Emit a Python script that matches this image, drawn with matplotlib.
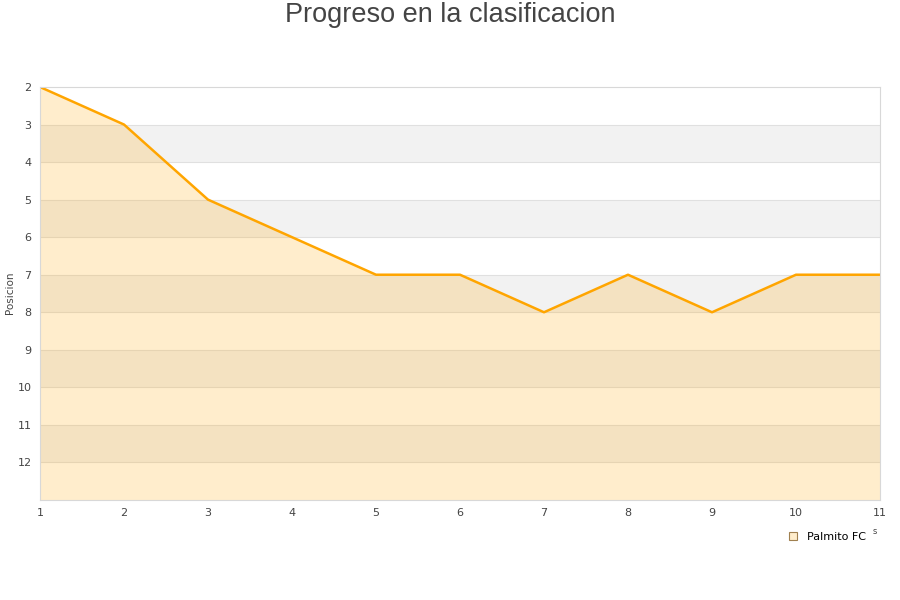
import matplotlib
matplotlib.use('Agg')
import matplotlib.pyplot as plt
from matplotlib.lines import Line2D

jornadas = [1, 2, 3, 4, 5, 6, 7, 8, 9, 10, 11]
posicion = [2, 3, 5, 6, 7, 7, 8, 7, 8, 7, 7]
equipo = "Palmito FC"
y_ticks = [2, 3, 4, 5, 6, 7, 8, 9, 10, 11, 12]

fig = plt.figure(figsize=(9, 6), dpi=100)
ax = fig.add_axes([40 / 900, 100 / 600, 840 / 900, 413 / 600])

# alternating bands
for y0 in range(3, 13, 2):
    ax.axhspan(y0, y0 + 1, color='#f2f2f2', zorder=0, lw=0)
for y in range(3, 13):
    ax.axhline(y, color='#e0e0e0', lw=0.8, zorder=0.5)

ax.fill_between(jornadas, posicion, 13, color='#ffa500', alpha=0.2, lw=0, zorder=1)
ax.plot(jornadas, posicion, color='#ffa500', lw=1.8, zorder=2)

ax.set_xlim(1, 11)
ax.set_ylim(13, 2)
ax.set_xticks(jornadas)
ax.set_yticks(y_ticks)
ax.tick_params(length=0, labelsize=8, colors='#444444', pad=6)
for s in ax.spines.values():
    s.set_color('#d8d8d8')
    s.set_linewidth(0.8)
fig.text(10 / 900, 1 - 293 / 600, "Posicion", rotation=90, ha='center', va='center',
         fontsize=7.5, color='#444444')

fig.text(0.5, 1 - 15 / 600, "Progreso en la clasificacion", ha='center', va='center',
         fontsize=19.5, color='#444444', family='Liberation Sans')
fig.text(875 / 900, 1 - 531 / 600, "s", ha='center', va='center', fontsize=6, color='#444444')

handle = Line2D([], [], marker='s', ls='none', markersize=6,
                markerfacecolor='#ffedcc', markeredgecolor='#a08050', markeredgewidth=0.8)
fig.legend([handle], [equipo], loc='center', bbox_to_anchor=(824 / 900, 1 - 537 / 600),
           frameon=False, fontsize=8, handletextpad=0.3, borderpad=0)

fig.savefig('out.png', dpi=100)
